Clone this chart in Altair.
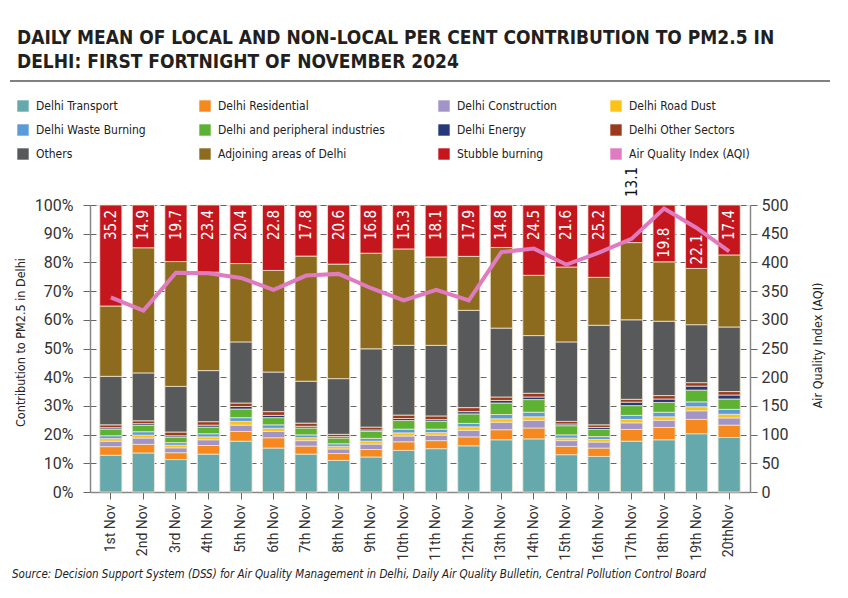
import altair as alt
import pandas as pd

days = ["1st Nov", "2nd Nov", "3rd Nov", "4th Nov", "5th Nov", "6th Nov", "7th Nov",
        "8th Nov", "9th Nov", "10th Nov", "11th Nov", "12th Nov", "13th Nov", "14th Nov",
        "15th Nov", "16th Nov", "17th Nov", "18th Nov", "19th Nov", "20thNov"]

sources = ["Delhi Transport", "Delhi Residential", "Delhi Construction", "Delhi Road Dust",
           "Delhi Waste Burning", "Delhi and peripheral industries", "Delhi Energy",
           "Delhi Other Sectors", "Others", "Adjoining areas of Delhi", "Stubble burning"]
aqi_name = "Air Quality Index (AQI)"

transport = [12.8, 13.6, 11.3, 13.2, 17.7, 15.3, 13.2, 11.0, 12.2, 14.5, 15.1, 16.1, 18.2, 18.5, 13.0, 12.4, 17.7, 18.2, 20.3, 19.0]
residential = [3.0, 3.0, 2.4, 3.0, 3.4, 3.6, 2.8, 2.4, 2.6, 3.0, 2.8, 3.1, 3.5, 3.8, 2.9, 2.9, 4.1, 4.3, 5.0, 4.3]
construction = [1.9, 2.2, 1.7, 2.0, 2.2, 2.2, 1.9, 1.6, 1.9, 2.0, 1.9, 2.3, 2.6, 2.6, 2.0, 2.1, 2.3, 2.5, 3.0, 2.5]
road_dust = [0.9, 1.0, 0.9, 1.0, 1.3, 1.1, 1.0, 0.9, 1.0, 1.1, 0.9, 1.2, 1.2, 1.3, 0.9, 0.9, 1.2, 1.2, 1.4, 1.3]
waste_burning = [1.0, 1.2, 0.9, 1.1, 1.3, 1.2, 1.0, 0.9, 1.0, 1.3, 1.2, 1.2, 1.5, 1.6, 1.1, 1.0, 1.4, 1.6, 1.7, 1.7]
industries = [2.3, 2.2, 1.9, 2.3, 3.0, 2.5, 2.4, 2.0, 2.4, 3.0, 2.7, 3.3, 4.0, 4.4, 3.2, 2.5, 3.4, 3.4, 4.1, 3.6]
energy = [0.5, 0.6, 0.5, 0.7, 0.9, 0.8, 0.6, 0.5, 0.5, 0.7, 0.6, 0.8, 0.9, 0.9, 0.6, 0.7, 1.2, 1.2, 1.4, 1.4]
other_sectors = [1.0, 1.0, 1.3, 1.2, 1.2, 1.3, 1.1, 0.8, 1.0, 1.2, 1.3, 1.4, 1.2, 1.3, 0.9, 0.9, 1.0, 1.2, 1.2, 1.2]
others = [16.9, 16.7, 15.9, 17.8, 21.3, 13.8, 14.6, 19.4, 27.3, 24.3, 24.6, 33.9, 24.0, 20.1, 27.7, 34.7, 27.7, 25.9, 20.2, 22.5]
adjoining = [24.5, 43.6, 43.5, 34.3, 27.3, 35.4, 43.6, 39.9, 33.3, 33.6, 30.8, 18.8, 28.1, 21.0, 26.1, 16.7, 26.9, 20.7, 19.6, 25.1]
stubble = [35.2, 14.9, 19.7, 23.4, 20.4, 22.8, 17.8, 20.6, 16.8, 15.3, 18.1, 17.9, 14.8, 24.5, 21.6, 25.2, 13.1, 19.8, 22.1, 17.4]
aqi = [339, 316, 382, 381, 373, 352, 377, 380, 355, 334, 352, 334, 418, 424, 396, 417, 441, 494, 460, 419]

colors = ["#65a9ad", "#f5891f", "#a294c7", "#fcc217", "#5b9bd8", "#5db133", "#25397a",
          "#9c3a1f", "#58595b", "#8c6b1e", "#c5161d", "#e07bbf"]

series = [transport, residential, construction, road_dust, waste_burning, industries,
          energy, other_sectors, others, adjoining, stubble]

rows = []
for idx, (name, vals) in enumerate(zip(sources, series)):
    for d, v in zip(days, vals):
        rows.append({"day": d, "source": name, "value": v, "idx": idx})
bars_df = pd.DataFrame(rows)

# legend is filled column by column (3 rows x 4 columns): reorder so it reads row by row
all_names = sources + [aqi_name]
n_cols, n_rows = 4, 3
leg_order = [r * n_cols + c for c in range(n_cols) for r in range(n_rows)]
leg_domain = [all_names[i] for i in leg_order]
leg_range = [colors[i] for i in leg_order]

lab_rows = []
for d, s, a in zip(days, stubble, aqi):
    if s < 14:
        kind, y = "above", 100.0
    elif a / 5 > 100 - s / 2:
        kind, y = "bottom", 100.0 - s
    else:
        kind, y = "top", 100.0
    lab_rows.append({"day": d, "stubble": s, "kind": kind, "ly": y, "txt": f"{s:.1f}"})
lab_df = pd.DataFrame(lab_rows)

aqi_df = pd.DataFrame({"day": days, "aqi": aqi})

NARROW = "DejaVu Sans Condensed, sans-serif"
AXISF = "Roboto, Liberation Sans, sans-serif"

xscale = alt.Scale(domain=days, paddingInner=0.32, paddingOuter=0.3)
x_enc = alt.X("day:N", sort=days, scale=xscale,
              axis=alt.Axis(title=None, labelAngle=270, labelAlign="right", labelBaseline="middle",
                            labelFontSize=14, labelFont=AXISF, labelColor="#333", labelPadding=5,
                            tickSize=7, tickColor="#666", domainColor="#888", domainWidth=1.5))

bars = alt.Chart(bars_df).mark_bar(stroke="#efe6d2", strokeWidth=0.8).encode(
    x=x_enc,
    y=alt.Y("value:Q", stack="zero", scale=alt.Scale(domain=[0, 100], nice=False),
            axis=alt.Axis(values=list(range(0, 101, 10)), labelExpr="datum.value + '%'",
                          labelFontSize=16, labelFont=AXISF, labelColor="#333", labelPadding=10,
                          tickSize=7, tickColor="#666", domainColor="#888", domainWidth=1.5,
                          grid=True, gridColor="#666", gridDash=[6, 4], gridWidth=1,
                          title="Contribution to PM2.5 in Delhi", titleFont=NARROW,
                          titleFontSize=12.5, titleFontWeight="normal", titleColor="#222",
                          titleAngle=270, titleX=-70, titleY=137, titleAlign="center",
                          titleBaseline="middle")),
    color=alt.Color("source:N", scale=alt.Scale(domain=leg_domain, range=leg_range),
                    legend=alt.Legend(title=None, orient="none", legendX=-73, legendY=-105,
                                      columns=4, symbolType="square", symbolSize=130,
                                      symbolStrokeWidth=0, labelFont=NARROW, labelFontSize=12,
                                      labelColor="#222", labelOffset=7, rowPadding=12,
                                      columnPadding=53, gridAlign="each", labelLimit=300)),
    order=alt.Order("idx:Q", sort="ascending"),
)

ylab = alt.Y("ly:Q", scale=alt.Scale(domain=[0, 100], nice=False), axis=None)
lab_top = alt.Chart(lab_df).transform_filter("datum.kind == 'top'").mark_text(
    angle=270, align="right", baseline="middle", dx=-5, color="white",
    font=NARROW, fontSize=15).encode(x=alt.X("day:N", sort=days, scale=xscale), y=ylab, text="txt:N")
lab_bottom = alt.Chart(lab_df).transform_filter("datum.kind == 'bottom'").mark_text(
    angle=270, align="left", baseline="middle", dx=4, color="white",
    font=NARROW, fontSize=15).encode(x=alt.X("day:N", sort=days, scale=xscale), y=ylab, text="txt:N")
lab_above = alt.Chart(lab_df).transform_filter("datum.kind == 'above'").mark_text(
    angle=270, align="left", baseline="middle", dx=8, color="#111",
    font=NARROW, fontSize=15).encode(x=alt.X("day:N", sort=days, scale=xscale), y=ylab, text="txt:N")

line = alt.Chart(aqi_df).mark_line(color=colors[-1], strokeWidth=4).encode(
    x=alt.X("day:N", sort=days, scale=xscale),
    y=alt.Y("aqi:Q", scale=alt.Scale(domain=[0, 500], nice=False),
            axis=alt.Axis(orient="right", values=list(range(0, 501, 50)), labelFontSize=16,
                          labelFont=AXISF, labelColor="#333", labelPadding=4, tickSize=7,
                          tickColor="#666", domainColor="#888", domainWidth=1.5, grid=False,
                          title=aqi_name, titleFont=NARROW, titleFontSize=12.5,
                          titleFontWeight="normal", titleColor="#222", titleAngle=270,
                          titleX=67, titleY=140, titleAlign="center", titleBaseline="middle")),
)

note_df = pd.DataFrame({"k": [0]})
source_text = alt.Chart(note_df).mark_text(
    align="left", baseline="middle", font=NARROW, fontSize=11.5, fontStyle="italic",
    color="#222").encode(
    x=alt.value(-78), y=alt.value(370),
    text=alt.value("Source: Decision Support System (DSS) for Air Quality Management in Delhi, "
                   "Daily Air Quality Bulletin, Central Pollution Control Board"))
underline = alt.Chart(note_df).mark_rect(color="#808080").encode(
    x=alt.value(-80), x2=alt.value(740), y=alt.value(-125), y2=alt.value(-123))

chart = alt.layer(bars, lab_top, lab_bottom, lab_above, line, source_text, underline).resolve_scale(
    y="independent").properties(
    width=660, height=287,
    padding={"left": 82, "top": 197, "right": 88, "bottom": 100},
    autosize=alt.AutoSizeParams(type="none"),
    title=alt.TitleParams(
        text=["DAILY MEAN OF LOCAL AND NON-LOCAL PER CENT CONTRIBUTION TO PM2.5 IN",
              "DELHI: FIRST FORTNIGHT OF NOVEMBER 2024"],
        anchor="start", frame="group", dx=-73, dy=-4, fontSize=19, font=NARROW, fontWeight="bold",
        color="#231f20", lineHeight=24),
).configure_view(strokeWidth=0).configure(background="white")

chart.save("out.html", embed_options={"renderer": "svg", "actions": False})
